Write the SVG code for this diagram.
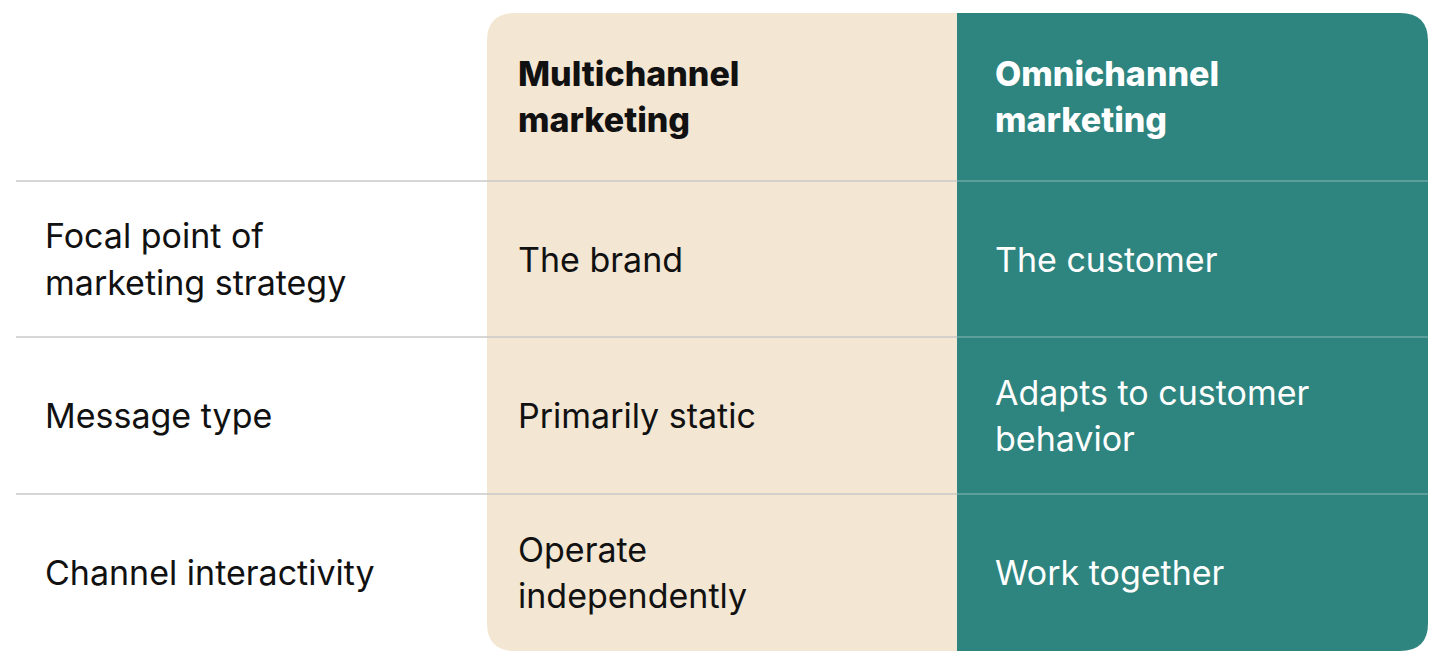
<svg xmlns="http://www.w3.org/2000/svg" width="1440" height="666" viewBox="0 0 1440 666">
<style>
.t{font-family:Inter,"Liberation Sans",sans-serif;font-size:34px;fill:#111}
.h{font-weight:800}
.w{fill:#fff}
.ln{stroke:#c8c8c8;stroke-width:1.5}
.lw{stroke:#ffffff;stroke-opacity:0.3;stroke-width:1.5}
</style>
<rect width="1440" height="666" fill="#fff"/>
<g id="col-multi"><path d="M515 13 H957 V651 H515 Q487 651 487 623 V41 Q487 13 515 13 Z" fill="#F3E6D3"/></g>
<g id="col-omni"><path d="M957 13 H1400 Q1428 13 1428 41 V623 Q1428 651 1400 651 H957 Z" fill="#2E847E"/></g>
<g id="lines">
<line class="ln" x1="16" y1="181" x2="957" y2="181"/>
<line class="ln" x1="16" y1="337" x2="957" y2="337"/>
<line class="ln" x1="16" y1="494" x2="957" y2="494"/>
<line class="lw" x1="957" y1="181" x2="1428" y2="181"/>
<line class="lw" x1="957" y1="337" x2="1428" y2="337"/>
<line class="lw" x1="957" y1="494" x2="1428" y2="494"/>
</g>
<g id="headers">
<text class="t h" x="518" y="86">Multichannel</text><text class="t h" x="518" y="132">marketing</text>
<text class="t h w" x="995" y="86">Omnichannel</text><text class="t h w" x="995" y="132">marketing</text>
</g>
<g id="row1">
<text class="t" x="45" y="248">Focal point of</text><text class="t" x="45" y="295">marketing strategy</text>
<text class="t" x="518" y="272">The brand</text>
<text class="t w" x="995" y="272">The customer</text>
</g>
<g id="row2">
<text class="t" x="45" y="428">Message type</text>
<text class="t" x="518" y="428">Primarily static</text>
<text class="t w" x="995" y="405">Adapts to customer</text><text class="t w" x="995" y="451">behavior</text>
</g>
<g id="row3">
<text class="t" x="45" y="585">Channel interactivity</text>
<text class="t" x="518" y="562">Operate</text><text class="t" x="518" y="608">independently</text>
<text class="t w" x="995" y="585">Work together</text>
</g>
</svg>
